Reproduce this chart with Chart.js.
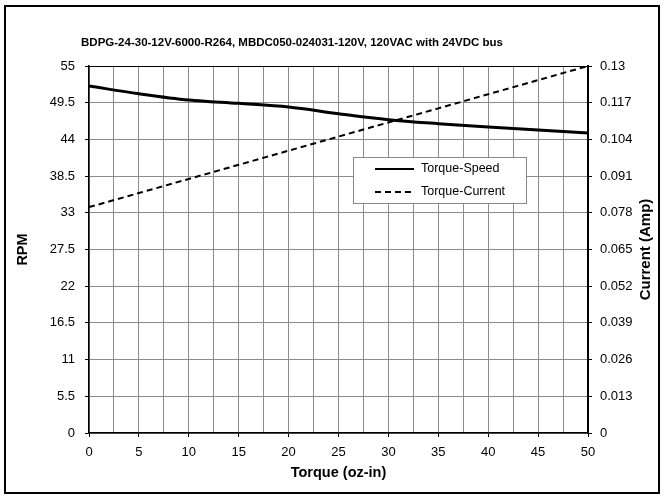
<!DOCTYPE html>
<html>
<head>
<meta charset="utf-8">
<script src="https://cdn.jsdelivr.net/npm/chart.js@4/dist/chart.umd.min.js"></script>
<style>
  html, body { margin: 0; padding: 0; background: #fff; }
  #chart { display: block; }
</style>
</head>
<body>
<canvas id="chart" width="664" height="498"></canvas>
<script>
const chartTitle = 'BDPG-24-30-12V-6000-R264, MBDC050-024031-120V, 120VAC with 24VDC bus';
const torque = [0, 5, 10, 15, 20, 25, 30, 35, 40, 45, 50];
const speedRpm = [52.0, 50.85, 49.9, 49.4, 48.85, 47.85, 46.95, 46.35, 45.85, 45.4, 44.95];
const currentAmp = [0.080, 0.085, 0.090, 0.095, 0.100, 0.105, 0.110, 0.115, 0.120, 0.125, 0.130];
const torqueTicks = [0, 2.5, 5, 7.5, 10, 12.5, 15, 17.5, 20, 22.5, 25, 27.5, 30, 32.5, 35, 37.5, 40, 42.5, 45, 47.5, 50];
const rpmTicks = [0, 5.5, 11, 16.5, 22, 27.5, 33, 38.5, 44, 49.5, 55];
const ampTicks = [0, 0.013, 0.026, 0.039, 0.052, 0.065, 0.078, 0.091, 0.104, 0.117, 0.13];

const FONT = "'Liberation Sans', Arial, sans-serif";
const GRID = '#8c8c8c';

// outer frame, plot border, title, right axis title and legend
const framePlugin = {
    id: 'frame',
    beforeDraw(chart) {
        const ctx = chart.ctx;
        ctx.save();
        ctx.fillStyle = '#fff';
        ctx.fillRect(0, 0, chart.width, chart.height);
        ctx.restore();
    },
    afterDatasetsDraw(chart) {
        const ctx = chart.ctx;
        const a = chart.chartArea;
        ctx.save();
        // plot top border
        ctx.strokeStyle = '#000';
        ctx.lineWidth = 1;
        ctx.beginPath();
        ctx.moveTo(a.left, a.top + 0.5);
        ctx.lineTo(a.right, a.top + 0.5);
        ctx.stroke();

        // legend
        const lx = 353, ly = 157, lw = 173, lh = 46;
        ctx.fillStyle = '#fff';
        ctx.fillRect(lx, ly, lw, lh);
        ctx.strokeStyle = '#888';
        ctx.lineWidth = 1;
        ctx.strokeRect(lx + 0.5, ly + 0.5, lw, lh);
        chart.data.datasets.forEach((ds, i) => {
            const y = ly + 12 + i * 23;
            ctx.strokeStyle = ds.borderColor;
            ctx.lineWidth = 2;
            ctx.setLineDash(ds.borderDash || []);
            ctx.beginPath();
            ctx.moveTo(375, y);
            ctx.lineTo(414, y);
            ctx.stroke();
            ctx.setLineDash([]);
            ctx.fillStyle = '#000';
            ctx.font = '12.5px ' + FONT;
            ctx.textAlign = 'left';
            ctx.textBaseline = 'middle';
            ctx.fillText(ds.label, 421, y);
        });

        // chart title
        ctx.fillStyle = '#000';
        ctx.font = 'bold 11.5px ' + FONT;
        ctx.textAlign = 'center';
        ctx.textBaseline = 'middle';
        ctx.fillText(chartTitle, 292, 43);

        // right axis title (reads bottom to top)
        ctx.translate(646, (a.top + a.bottom) / 2);
        ctx.rotate(-Math.PI / 2);
        ctx.font = 'bold 15px ' + FONT;
        ctx.fillText('Current (Amp)', 0, 0);
        ctx.restore();

        // outer frame
        ctx.save();
        ctx.strokeStyle = '#000';
        ctx.lineWidth = 2;
        ctx.strokeRect(5, 6, 654, 487);
        ctx.restore();
    }
};

new Chart(document.getElementById('chart'), {
    type: 'line',
    data: {
        datasets: [{
            label: 'Torque-Speed',
            data: torque.map((t, i) => ({x: t, y: speedRpm[i]})),
            yAxisID: 'y',
            borderColor: '#000',
            borderWidth: 3,
            pointRadius: 0,
            tension: 0.4,
            cubicInterpolationMode: 'monotone',
            fill: false
        }, {
            label: 'Torque-Current',
            data: torque.map((t, i) => ({x: t, y: currentAmp[i]})),
            yAxisID: 'y1',
            borderColor: '#000',
            borderWidth: 2,
            borderDash: [6, 4],
            pointRadius: 0,
            tension: 0,
            fill: false
        }]
    },
    options: {
        responsive: false,
        animation: false,
        events: [],
        layout: {
            padding: {top: 66, left: 0, right: 0, bottom: 0}
        },
        plugins: {
            legend: {display: false},
            tooltip: {enabled: false}
        },
        scales: {
            x: {
                type: 'linear',
                position: 'bottom',
                min: 0,
                max: 50,
                afterBuildTicks: s => { s.ticks = torqueTicks.map(v => ({value: v})); },
                afterFit: s => { s.height = 65; },
                ticks: {
                    autoSkip: false,
                    maxRotation: 0,
                    padding: 8,
                    color: '#000',
                    font: {family: FONT, size: 13},
                    callback: v => (v % 5 === 0 ? String(v) : '')
                },
                grid: {
                    color: GRID,
                    tickLength: 4,
                    tickColor: c => (c.tick && c.tick.value % 5 === 0 ? '#000' : 'rgba(0,0,0,0)')
                },
                border: {color: '#000', width: 1.5},
                title: {
                    display: true,
                    text: 'Torque (oz-in)',
                    color: '#000',
                    font: {family: FONT, size: 14.5, weight: 'bold'},
                    padding: {top: 0, bottom: 16}
                }
            },
            y: {
                position: 'left',
                min: 0,
                max: 55,
                afterBuildTicks: s => { s.ticks = rpmTicks.map(v => ({value: v})); },
                afterFit: s => { s.width = 89; },
                ticks: {
                    padding: 10,
                    color: '#000',
                    font: {family: FONT, size: 13},
                    callback: (v, i) => String(rpmTicks[i])
                },
                grid: {color: GRID, tickLength: 4, tickColor: '#000'},
                border: {color: '#000', width: 1.5},
                title: {
                    display: true,
                    text: 'RPM',
                    color: '#000',
                    font: {family: FONT, size: 14.5, weight: 'bold'},
                    padding: {top: 14, bottom: 0}
                }
            },
            y1: {
                position: 'right',
                min: 0,
                max: 0.13,
                afterBuildTicks: s => { s.ticks = ampTicks.map(v => ({value: v})); },
                afterFit: s => { s.width = 76; },
                ticks: {
                    padding: 8,
                    color: '#000',
                    font: {family: FONT, size: 13},
                    callback: (v, i) => String(ampTicks[i])
                },
                grid: {drawOnChartArea: false, tickLength: 4, tickColor: '#000'},
                border: {color: '#000', width: 2}
            }
        }
    },
    plugins: [framePlugin]
});
</script>
</body>
</html>
